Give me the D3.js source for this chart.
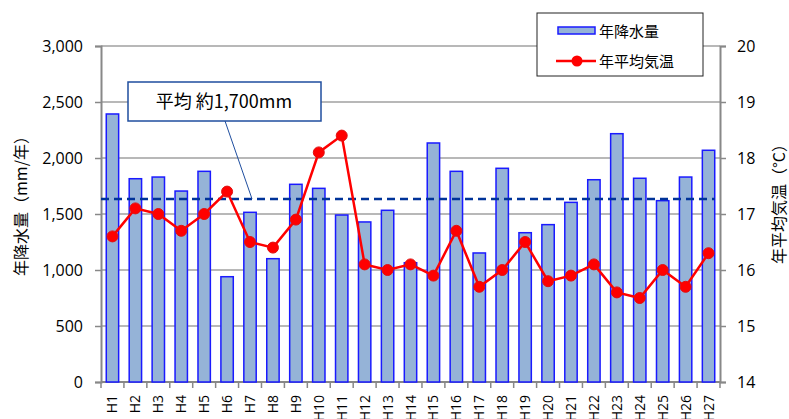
<!DOCTYPE html>
<html>
<head>
<meta charset="utf-8">
<script src="https://d3js.org/d3.v7.min.js"></script>
<style>
  body { margin: 0; background: #fff; }
  text { font-family: "Open Sans", "Noto Sans CJK JP", sans-serif; fill: #000; }
  .jp { font-family: "Noto Sans CJK JP", sans-serif; }
</style>
</head>
<body>
<div id="chart"></div>
<script>
// data (heisei years)
var years = ["H1","H2","H3","H4","H5","H6","H7","H8","H9","H10","H11","H12","H13","H14",
             "H15","H16","H17","H18","H19","H20","H21","H22","H23","H24","H25","H26","H27"];
var rainfall = [2393,1815,1830,1705,1881,940,1515,1101,1765,1729,1491,1429,1533,1065,
                2134,1881,1152,1908,1333,1405,1604,1806,2217,1819,1619,1830,2069];
var temperature = [16.6,17.1,17.0,16.7,17.0,17.4,16.5,16.4,16.9,18.1,18.4,16.1,16.0,16.1,
                   15.9,16.7,15.7,16.0,16.5,15.8,15.9,16.1,15.6,15.5,16.0,15.7,16.3];
var rainTicks = [0,500,1000,1500,2000,2500,3000];
var tempTicks = [14,15,16,17,18,19,20];
var avgRain = 1635;
var avgLabel = "平均 約1,700mm";

var W = 789, H = 419;
var pLeft = 101, pRight = 720, pTop = 46, pBottom = 382;

var svg = d3.select("#chart").append("svg")
  .attr("width", W).attr("height", H);

var x = d3.scaleBand().domain(years).range([pLeft, pRight]).padding(0);
var y = d3.scaleLinear().domain([0, 3000]).range([pBottom, pTop]);
var y2 = d3.scaleLinear().domain([14, 20]).range([pBottom, pTop]);

// gridlines
svg.append("g").selectAll("line").data(rainTicks.slice(1)).enter().append("line")
  .attr("x1", pLeft).attr("x2", pRight)
  .attr("y1", function(d) { return y(d); }).attr("y2", function(d) { return y(d); })
  .attr("stroke", "#a0a0a0").attr("stroke-width", 1.3);

// left axis
var ay = svg.append("g").attr("transform", "translate(" + pLeft + ",0)")
  .call(d3.axisLeft(y).tickValues(rainTicks).tickSize(6).tickPadding(12).tickFormat(d3.format(",")));
ay.select(".domain").attr("stroke", "#888").attr("stroke-width", 2);
ay.selectAll(".tick line").attr("stroke", "#888").attr("stroke-width", 1.5);
ay.selectAll("text").attr("font-size", 16);

// right axis
var ay2 = svg.append("g").attr("transform", "translate(" + pRight + ",0)")
  .call(d3.axisRight(y2).tickValues(tempTicks).tickSize(6).tickPadding(11).tickFormat(d3.format("d")));
ay2.select(".domain").attr("stroke", "#888").attr("stroke-width", 2);
ay2.selectAll(".tick line").attr("stroke", "#888").attr("stroke-width", 1.5);
ay2.selectAll("text").attr("font-size", 16);

// bottom axis: ticks between categories
var bx = svg.append("g").attr("transform", "translate(0," + pBottom + ")");
bx.append("line").attr("x1", pLeft).attr("x2", pRight).attr("stroke", "#888").attr("stroke-width", 2);
bx.selectAll("line.tk").data(years.concat(["end"])).enter().append("line")
  .attr("class", "tk")
  .attr("x1", function(d, i) { return pLeft + i * x.bandwidth(); })
  .attr("x2", function(d, i) { return pLeft + i * x.bandwidth(); })
  .attr("y1", 0).attr("y2", 6)
  .attr("stroke", "#888").attr("stroke-width", 1.5);
bx.selectAll("text").data(years).enter().append("text")
  .attr("transform", function(d) {
    return "translate(" + (x(d) + x.bandwidth() / 2 + 5) + ",13) rotate(-90)";
  })
  .attr("text-anchor", "end")
  .attr("font-size", 14)
  .text(function(d) { return d; });

// bars
var bw = x.bandwidth() * 0.54;
svg.append("g").selectAll("rect").data(rainfall).enter().append("rect")
  .attr("x", function(d, i) { return x(years[i]) + (x.bandwidth() - bw) / 2; })
  .attr("y", function(d) { return y(d); })
  .attr("width", bw)
  .attr("height", function(d) { return y(0) - y(d); })
  .attr("fill", "#95b3d7")
  .attr("stroke", "#1a1aff").attr("stroke-width", 1.5);

// average dashed line
svg.append("line")
  .attr("x1", pLeft).attr("x2", x(years[years.length - 1]) + x.bandwidth() / 2 + bw / 2)
  .attr("y1", y(avgRain)).attr("y2", y(avgRain))
  .attr("stroke", "#003399").attr("stroke-width", 2.5)
  .attr("stroke-dasharray", "8,5");

// temperature line
var line = d3.line()
  .x(function(d, i) { return x(years[i]) + x.bandwidth() / 2; })
  .y(function(d) { return y2(d); });
svg.append("path").datum(temperature)
  .attr("d", line).attr("fill", "none")
  .attr("stroke", "#ff0000").attr("stroke-width", 2.5);
svg.append("g").selectAll("circle").data(temperature).enter().append("circle")
  .attr("cx", function(d, i) { return x(years[i]) + x.bandwidth() / 2; })
  .attr("cy", function(d) { return y2(d); })
  .attr("r", 5.5)
  .attr("fill", "#ff0000").attr("stroke", "#e01010").attr("stroke-width", 1);

// callout
svg.append("line")
  .attr("x1", 225).attr("y1", 121).attr("x2", 252).attr("y2", y(avgRain))
  .attr("stroke", "#1f4e9f").attr("stroke-width", 1);
svg.append("rect")
  .attr("x", 128).attr("y", 82).attr("width", 193).attr("height", 39)
  .attr("fill", "#fff").attr("stroke", "#1f4e9f").attr("stroke-width", 1.5);
svg.append("text").attr("class", "jp")
  .attr("x", 224).attr("y", 108).attr("text-anchor", "middle")
  .attr("font-size", 18).text(avgLabel);

// legend
var lg = svg.append("g");
lg.append("rect").attr("x", 537).attr("y", 13).attr("width", 166).attr("height", 63)
  .attr("fill", "#fff").attr("stroke", "#222").attr("stroke-width", 1);
lg.append("rect").attr("x", 558).attr("y", 27).attr("width", 37).attr("height", 7)
  .attr("fill", "#95b3d7").attr("stroke", "#1a1aff").attr("stroke-width", 1.5);
lg.append("text").attr("class", "jp").attr("x", 599).attr("y", 37)
  .attr("font-size", 15).text("年降水量");
lg.append("line").attr("x1", 556).attr("x2", 596).attr("y1", 61).attr("y2", 61)
  .attr("stroke", "#ff0000").attr("stroke-width", 2.5);
lg.append("circle").attr("cx", 577).attr("cy", 61).attr("r", 5.5).attr("fill", "#ff0000");
lg.append("text").attr("class", "jp").attr("x", 599).attr("y", 67)
  .attr("font-size", 15).text("年平均気温");

// axis titles
svg.append("text").attr("class", "jp")
  .attr("transform", "translate(27,202) rotate(-90)")
  .attr("text-anchor", "middle").attr("font-size", 16)
  .text("年降水量（mm/年）");
svg.append("text").attr("class", "jp")
  .attr("transform", "translate(785,200) rotate(-90)")
  .attr("text-anchor", "middle").attr("font-size", 16)
  .text("年平均気温（°C）");
</script>
</body>
</html>
